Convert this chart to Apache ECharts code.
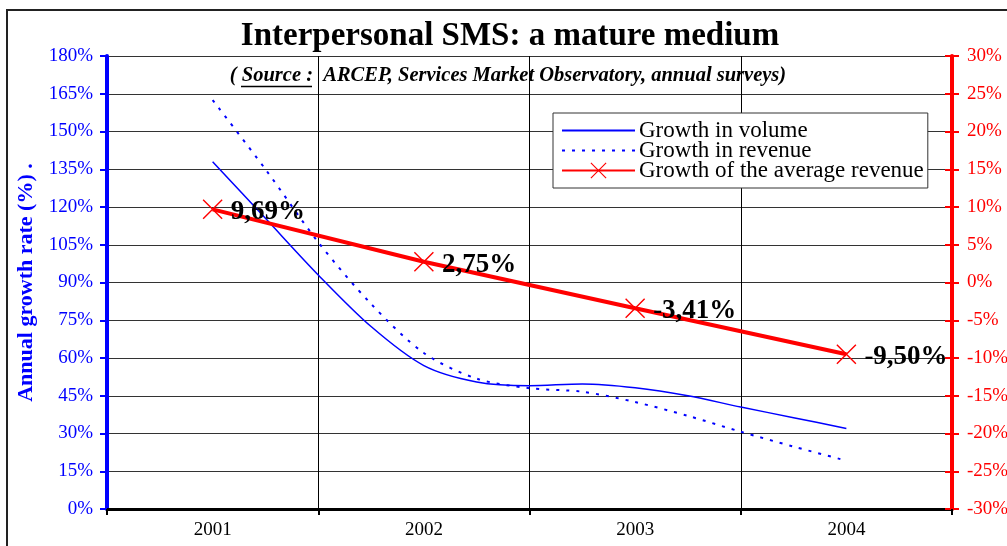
<!DOCTYPE html>
<html>
<head>
<meta charset="utf-8">
<script src="https://cdn.jsdelivr.net/npm/echarts@6/dist/echarts.min.js"></script>
<style>
  html, body { margin: 0; padding: 0; background: #fff; }
  #chart { width: 1007px; height: 546px; }
</style>
</head>
<body>
<div id="chart"></div>
<script>
// years on the category axis
const years = ['2001', '2002', '2003', '2004']
// quarterly readings, 2001 to 2004 (left axis, %)
const volumeGrowth = [138, 115.5, 93, 72.5, 57, 50.5, 49, 49.7, 48.2, 45, 40.5, 36.3, 32]
const revenueGrowth = [162.5, 135, 106, 81.5, 62, 51.8, 48, 46.6, 42.5, 37, 30.7, 24.8, 19.2]
// yearly growth of the average revenue (right axis, %)
const avgRevenueGrowth = [9.69, 2.75, -3.41, -9.50]
// axis ranges
const leftAxis = { min: 0, max: 180, step: 15 }
const rightAxis = { min: -30, max: 30, step: 5 }

const serif = 'Liberation Serif, Times New Roman, serif'
const crossIcon = 'path://M0,1L1,0L10,9L19,0L20,1L11,10L20,19L19,20L10,11L1,20L0,19L9,10Z'

const chart = echarts.init(document.getElementById('chart'))

const option = {
  animation: false,
  title: [
    {
      text: 'Interpersonal SMS: a mature medium',
      left: 510,
      top: 20,
      textAlign: 'center',
      padding: 0,
      textStyle: { fontFamily: serif, fontSize: 33, fontWeight: 'bold', color: '#000' }
    },
    {
      text: '{p|( }{s|Source :}{p|  ARCEP, Services Market Observatory, annual surveys)}',
      left: 508,
      top: 66,
      textAlign: 'center',
      padding: 0,
      textStyle: {
        rich: {
          p: { fontFamily: serif, fontSize: 20.5, fontWeight: 'bold', fontStyle: 'italic', color: '#000' },
          s: { fontFamily: serif, fontSize: 20.5, fontWeight: 'bold', fontStyle: 'italic', color: '#000' }
        }
      }
    }
  ],
  graphic: [
    {
      type: 'rect',
      silent: true,
      shape: { x: 7, y: 10, width: 1100, height: 600 },
      style: { fill: 'none', stroke: '#222', lineWidth: 2 }
    },
    {
      type: 'line',
      silent: true,
      shape: { x1: 241, y1: 86.5, x2: 312, y2: 86.5 },
      style: { stroke: '#000', lineWidth: 1.5 }
    }
  ],
  legend: {
    orient: 'vertical',
    left: 553,
    top: 113,
    padding: [6, 4, 6, 8],
    itemGap: -3,
    itemWidth: 73,
    itemHeight: 20,
    backgroundColor: '#fff',
    borderColor: '#333',
    borderWidth: 1,
    textStyle: { fontFamily: serif, fontSize: 23, color: '#000', padding: [0, 0, 0, -1] },
    data: [
      { name: 'Growth in volume', itemStyle: { opacity: 0 } },
      { name: 'Growth in revenue', itemStyle: { opacity: 0 } },
      { name: 'Growth of the average revenue' }
    ]
  },
  grid: { left: 107, right: 55, top: 56, bottom: 37, outerBoundsMode: 'none' },
  xAxis: [
    {
      type: 'category',
      data: years,
      axisLine: { lineStyle: { color: '#000', width: 3 } },
      axisTick: { show: true, length: 6, lineStyle: { color: '#000', width: 2 } },
      axisLabel: { color: '#000', fontFamily: serif, fontSize: 19, margin: 12 },
      splitLine: { show: true, interval: 0, lineStyle: { color: '#000', width: 1 } }
    },
    { type: 'value', min: -0.5, max: 3.5, show: false }
  ],
  yAxis: [
    {
      type: 'value',
      min: leftAxis.min,
      max: leftAxis.max,
      interval: leftAxis.step,
      name: 'Annual growth rate (%) .',
      nameLocation: 'middle',
      nameRotate: 90,
      nameGap: 70,
      nameTextStyle: { fontFamily: serif, fontSize: 22, fontWeight: 'bold', color: '#0000ff' },
      axisLine: { show: true, onZero: false, lineStyle: { color: '#0000ff', width: 4 } },
      axisTick: { show: true, length: 7, lineStyle: { color: '#0000ff', width: 2 } },
      axisLabel: { formatter: '{value}%', color: '#0000ff', fontFamily: serif, fontSize: 19, margin: 14 },
      splitLine: { show: true, lineStyle: { color: '#333', width: 1 } }
    },
    {
      type: 'value',
      position: 'right',
      min: rightAxis.min,
      max: rightAxis.max,
      interval: rightAxis.step,
      axisLine: { show: true, onZero: false, lineStyle: { color: '#ff0000', width: 4 } },
      axisTick: { show: true, length: 7, lineStyle: { color: '#ff0000', width: 2 } },
      axisLabel: { formatter: '{value}%', color: '#ff0000', fontFamily: serif, fontSize: 19, margin: 15 },
      splitLine: { show: false }
    },
    {
      // inner half of the crossing ticks on the right axis
      type: 'value',
      position: 'right',
      min: rightAxis.min,
      max: rightAxis.max,
      interval: rightAxis.step,
      axisLine: { show: false, onZero: false },
      axisTick: { show: true, inside: true, length: 7, lineStyle: { color: '#ff0000', width: 2 } },
      axisLabel: { show: false },
      splitLine: { show: false }
    }
  ],
  series: [
    {
      name: 'Growth in volume',
      type: 'line',
      xAxisIndex: 1,
      yAxisIndex: 0,
      smooth: 0.3,
      symbol: 'none',
      data: volumeGrowth.map((v, i) => [i / 4, v]),
      lineStyle: { color: '#0000ff', width: 1.5 },
      itemStyle: { color: '#0000ff' },
      z: 2
    },
    {
      name: 'Growth in revenue',
      type: 'line',
      xAxisIndex: 1,
      yAxisIndex: 0,
      smooth: 0.3,
      symbol: 'none',
      data: revenueGrowth.map((v, i) => [i / 4, v]),
      lineStyle: { color: '#0000ff', width: 2, type: [3, 7] },
      itemStyle: { color: '#0000ff' },
      z: 2
    },
    {
      name: 'Growth of the average revenue',
      type: 'line',
      xAxisIndex: 0,
      yAxisIndex: 1,
      symbol: crossIcon,
      symbolSize: 20,
      data: avgRevenueGrowth,
      lineStyle: { color: '#ff0000', width: 4 },
      itemStyle: { color: '#ff0000' },
      label: {
        show: true,
        position: 'right',
        distance: 8,
        offset: [0, 3],
        formatter: p => p.value.toFixed(2).replace('.', ',') + '%',
        fontFamily: serif,
        fontSize: 27,
        fontWeight: 'bold',
        color: '#000'
      },
      z: 3
    }
  ]
}

chart.setOption(option)
window.addEventListener('resize', () => chart.resize())
</script>
</body>
</html>
